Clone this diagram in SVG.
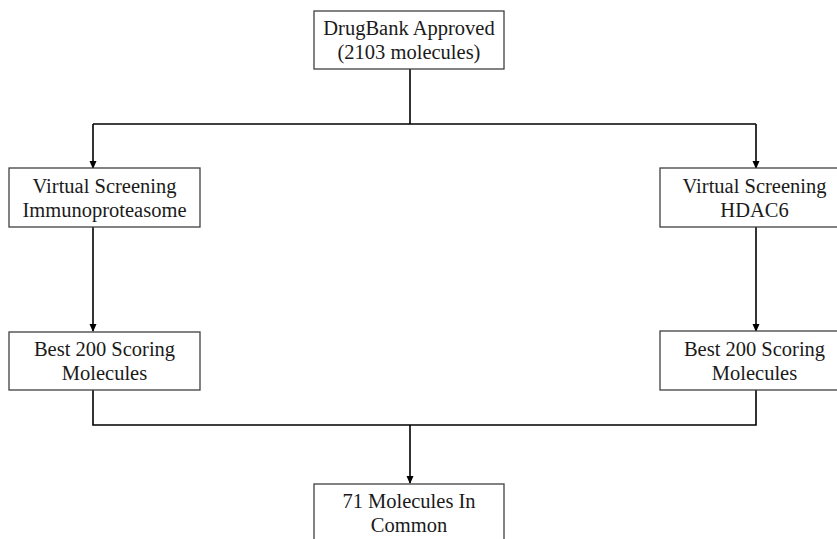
<svg xmlns="http://www.w3.org/2000/svg" width="837" height="539" viewBox="0 0 837 539">
<defs>
<marker id="arr" markerWidth="8" markerHeight="8" refX="7" refY="4" orient="auto" markerUnits="userSpaceOnUse">
<path d="M0,0.5 L8,4 L0,7.5 Z" fill="#000"/>
</marker>
<style>
.box{fill:#fff;stroke:#404040;stroke-width:1.3}
.t{font-family:"Liberation Serif","Times New Roman",serif;font-size:20.5px;fill:#1a1a1a;text-anchor:middle}
.c{fill:none;stroke:#000;stroke-width:1.6}
</style>
</defs>
<rect width="837" height="539" fill="#fff"/>
<g id="connectors">
<path class="c" d="M410,69 V124"/>
<path class="c" d="M93,124 H756"/>
<path class="c" d="M93,124 V168" marker-end="url(#arr)"/>
<path class="c" d="M756,124 V168" marker-end="url(#arr)"/>
<path class="c" d="M93,227 V331" marker-end="url(#arr)"/>
<path class="c" d="M756,227 V331" marker-end="url(#arr)"/>
<path class="c" d="M93,390 V425 H756 V390"/>
<path class="c" d="M410,425 V483" marker-end="url(#arr)"/>
</g>
<g id="drugbank">
<rect class="box" x="314" y="11" width="190" height="58"/>
<text class="t" x="409" y="35">DrugBank Approved</text>
<text class="t" x="409" y="59">(2103 molecules)</text>
</g>
<g id="vs-immuno">
<rect class="box" x="9" y="168" width="191" height="59"/>
<text class="t" x="104.5" y="193">Virtual Screening</text>
<text class="t" x="104.5" y="217">Immunoproteasome</text>
</g>
<g id="vs-hdac6">
<rect class="box" x="660" y="168" width="189" height="59"/>
<text class="t" x="754.5" y="193">Virtual Screening</text>
<text class="t" x="754.5" y="217">HDAC6</text>
</g>
<g id="best-left">
<rect class="box" x="9" y="332" width="191" height="58"/>
<text class="t" x="104.5" y="356">Best 200 Scoring</text>
<text class="t" x="104.5" y="380">Molecules</text>
</g>
<g id="best-right">
<rect class="box" x="660" y="331" width="189" height="59"/>
<text class="t" x="754.5" y="356">Best 200 Scoring</text>
<text class="t" x="754.5" y="380">Molecules</text>
</g>
<g id="common">
<rect class="box" x="314" y="484" width="190" height="70"/>
<text class="t" x="409" y="508">71 Molecules In</text>
<text class="t" x="409" y="532">Common</text>
</g>
</svg>
